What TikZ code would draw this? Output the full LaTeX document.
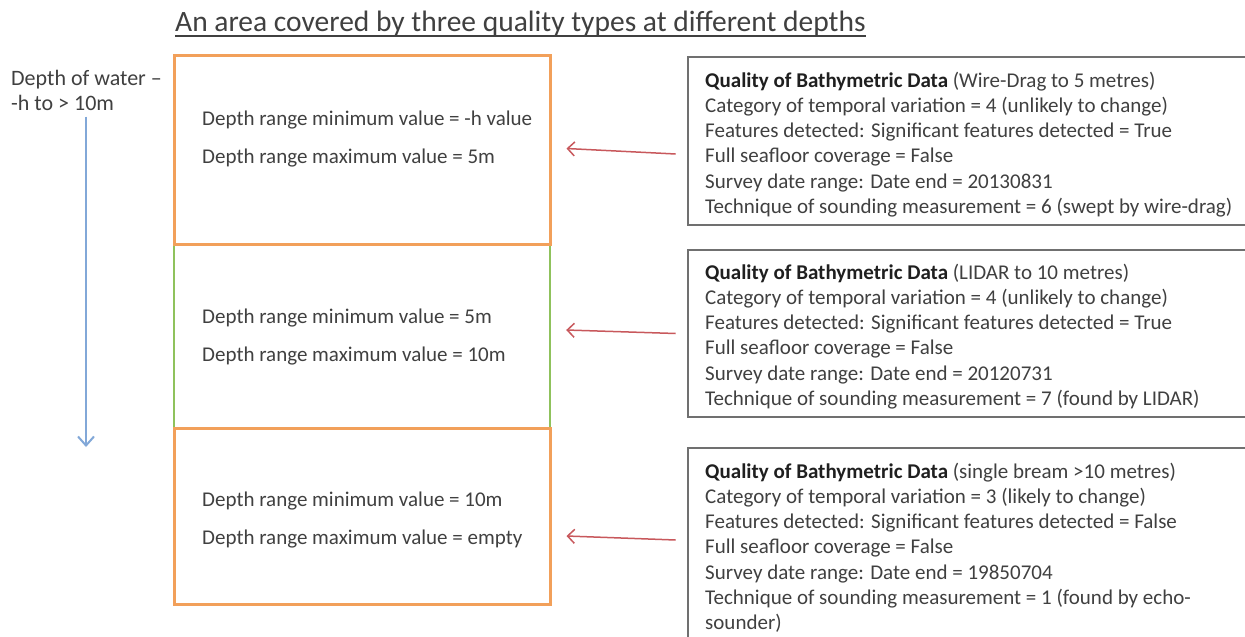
\documentclass[tikz,border=0pt]{standalone}
\usepackage{fontspec}
\setmainfont{Carlito}
\usetikzlibrary{arrows.meta}
\definecolor{txt}{HTML}{404040}
\definecolor{txtdark}{HTML}{1F1F1F}
\definecolor{borange}{HTML}{F2A05A}
\definecolor{bgreen}{HTML}{8FC25C}
\definecolor{bblue}{HTML}{82A8D8}
\definecolor{ared}{HTML}{C8585C}
\definecolor{bgray}{HTML}{707070}
\tikzset{
  layerbox/.style={draw=borange, line width=3pt, minimum width=376pt, inner sep=0pt},
  midbox/.style={draw=bgreen, line width=2.4pt, minimum width=376pt, inner sep=0pt},
  qbox/.style={draw=bgray, line width=2.6pt, minimum width=572pt, inner sep=0pt},
  ltext/.style={anchor=north west, inner sep=0pt, align=left, text=txt,
    font=\fontsize{21}{38.5}\selectfont},
  rtext/.style={anchor=north west, inner sep=0pt, align=left, text=txt,
    font=\fontsize{21}{25.2}\selectfont},
  redarrow/.style={draw=ared, line width=1.5pt, -{Straight Barb[length=7pt,width=14pt]}},
  bluearrow/.style={draw=bblue, line width=2pt, -{Straight Barb[length=9pt,width=16pt]}},
}
\newcommand{\qhead}[1]{\rule{0pt}{18pt}\textcolor{txtdark}{\bfseries Quality of Bathymetric Data} #1}
\begin{document}
\begin{tikzpicture}[x=1pt,y=-1pt]
\clip (0,0) rectangle (1245,637);
\fill[white] (0,0) rectangle (1245,637);

% title
\node[anchor=base west, inner sep=0pt, text=txt, font=\fontsize{29.5}{34}\selectfont] (title) at (175,31)
  {An area covered by three quality types at different depths};
\draw[txt, line width=1.4pt] ([yshift=-5pt]title.base west) -- ([yshift=-5pt]title.base east);

% depth label and arrow
\node[anchor=north west, inner sep=0pt, align=left, text=txt, font=\fontsize{22}{25}\selectfont] (lbl) at (11,67)
  {\rule{0pt}{18pt}Depth of water --\\-h to > 10m};
\coordinate (deep) at (86,447);
\draw[bluearrow] (lbl.south -| deep) ++(0,6) -- (deep);

% layer boxes
\node[midbox, minimum height=184pt] (d2) at (362,336) {};
\node[layerbox, minimum height=189pt] (d1) at (362,149.5) {};
\node[layerbox, minimum height=176pt] (d3) at (362,516) {};

\node[ltext] (t1) at (202,107) {\rule{0pt}{18pt}Depth range minimum value = -h value\\Depth range maximum value = 5m};
\node[ltext] (t2) at (202,305) {\rule{0pt}{18pt}Depth range minimum value = 5m\\Depth range maximum value = 10m};
\node[ltext] (t3) at (202,488) {\rule{0pt}{18pt}Depth range minimum value = 10m\\Depth range maximum value = empty};

% quality boxes
\node[qbox, minimum height=168pt] (qa) at (974,141) {};
\node[qbox, minimum height=167pt] (qb) at (974,333.5) {};
\node[qbox, minimum height=204pt] (qc) at (974,550) {};

\node[rtext] (qat) at (705,69) {\qhead{(Wire-Drag to 5 metres)}\\
Category of temporal variation = 4 (unlikely to change)\\
Features detected: Significant features detected = True\\
Full seafloor coverage = False\\
Survey date range: Date end = 20130831\\
Technique of sounding measurement = 6 (swept by wire-drag)};

\node[rtext] (qbt) at (705,261) {\qhead{(LIDAR to 10 metres)}\\
Category of temporal variation = 4 (unlikely to change)\\
Features detected: Significant features detected = True\\
Full seafloor coverage = False\\
Survey date range: Date end = 20120731\\
Technique of sounding measurement = 7 (found by LIDAR)};

\node[rtext] (qct) at (705,460) {\qhead{(single bream >10 metres)}\\
Category of temporal variation = 3 (likely to change)\\
Features detected: Significant features detected = False\\
Full seafloor coverage = False\\
Survey date range: Date end = 19850704\\
Technique of sounding measurement = 1 (found by echo-\\
sounder)};

% connectors
\draw[redarrow] ([xshift=-11pt,yshift=-13pt]qa.west) -- ([xshift=15pt,yshift=1pt]d1.east);
\draw[redarrow] ([xshift=-11pt,yshift=0pt]qb.west) -- ([xshift=15pt,yshift=6pt]d2.east);
\draw[redarrow] ([xshift=-11pt,yshift=10pt]qc.west) -- ([xshift=15pt,yshift=-20pt]d3.east);
\end{tikzpicture}
\end{document}
